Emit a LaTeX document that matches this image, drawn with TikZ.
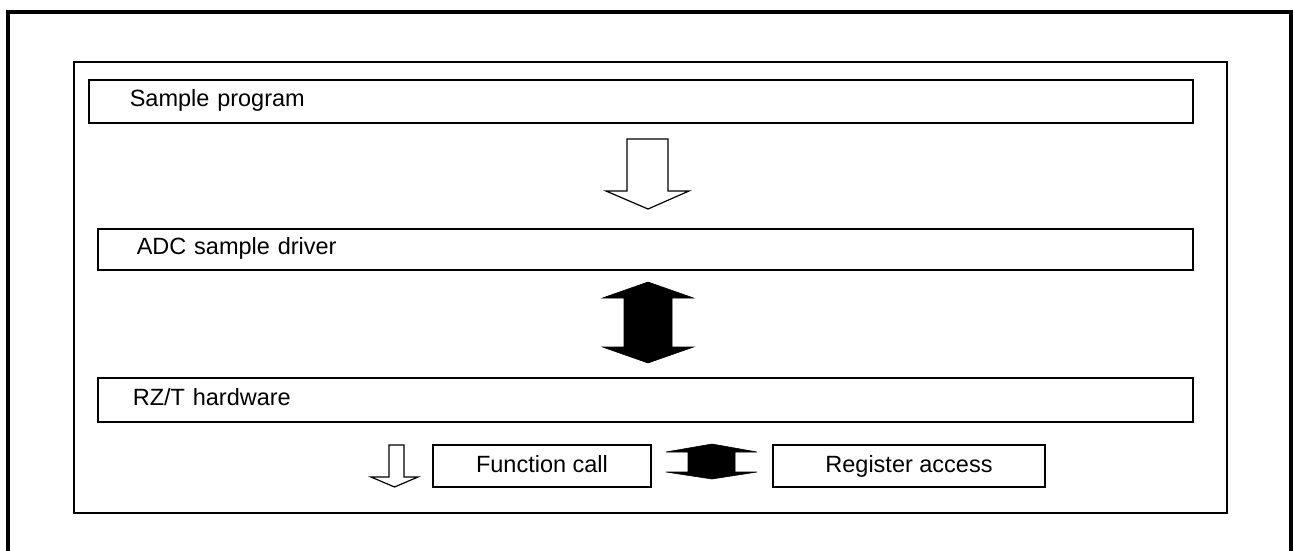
\documentclass[tikz,border=0pt]{standalone}
\usepackage{fontspec}
\setmainfont{Liberation Sans}
\usepackage{tikz}
\usetikzlibrary{positioning}
\tikzset{layer/.style={draw,line width=1.6pt,anchor=north west,inner ysep=0pt,align=left,
    text height=17pt,text depth=6pt,font=\fontsize{23.5}{28}\selectfont},
  legend/.style={draw,line width=1.6pt,inner sep=0pt,minimum height=42pt,
    text height=17pt,text depth=4pt,font=\fontsize{23.5}{28}\selectfont},
  hollow/.style={draw,line width=1.2pt,fill=white,line join=miter},
  solid/.style={fill=black,draw=black,line width=0.6pt}}

\begin{document}
\begin{tikzpicture}[x=1pt,y=-1pt]
  \useasboundingbox (0,0) rectangle (1293,551);
  \clip (0,0) rectangle (1293,551);
  \draw[line width=3.5pt] (8,560)--(8,12)--(1291,12)--(1291,560); % outer frame
  \draw[line width=1.2pt] (74,62) rectangle (1227,513);
  % layers
  \node[layer,minimum height=43pt,inner xsep=41pt,text width=1022pt] (prog) at (88,79) {Sample program};
  \node[layer,minimum height=41pt,inner xsep=39pt,text width=1017pt] (drv) at (97,228) {ADC sample driver};
  \node[layer,minimum height=44pt,inner xsep=35pt,text width=1025pt] (hw) at (97,377) {RZ/T hardware};
  % arrows between layers
  \draw[hollow] (627,139)--(668,139)--(668,191)--(689,191)--(648,209)--(606,191)--(627,191)--cycle;
  \draw[solid] (648,282)--(693.5,298)--(672,298)--(672,347)--(693.5,347)--(648,363)
    --(602.5,347)--(624,347)--(624,298)--(602.5,298)--cycle;
  % legend
  \draw[hollow] (389,445)--(404,445)--(404,477)--(418,477)--(394.5,487)--(371,477)--(389,477)--cycle;
  \node[legend,minimum width=218pt] (call) at (542,466) {Function call};
  \draw[solid] (712,444)--(757,452)--(735,452)--(735,472)--(757,472)--(712,479)
    --(666,472)--(688,472)--(688,452)--(666,452)--cycle;
  \node[legend,minimum width=272pt] (reg) at (909,466) {Register access};
\end{tikzpicture}
\end{document}
